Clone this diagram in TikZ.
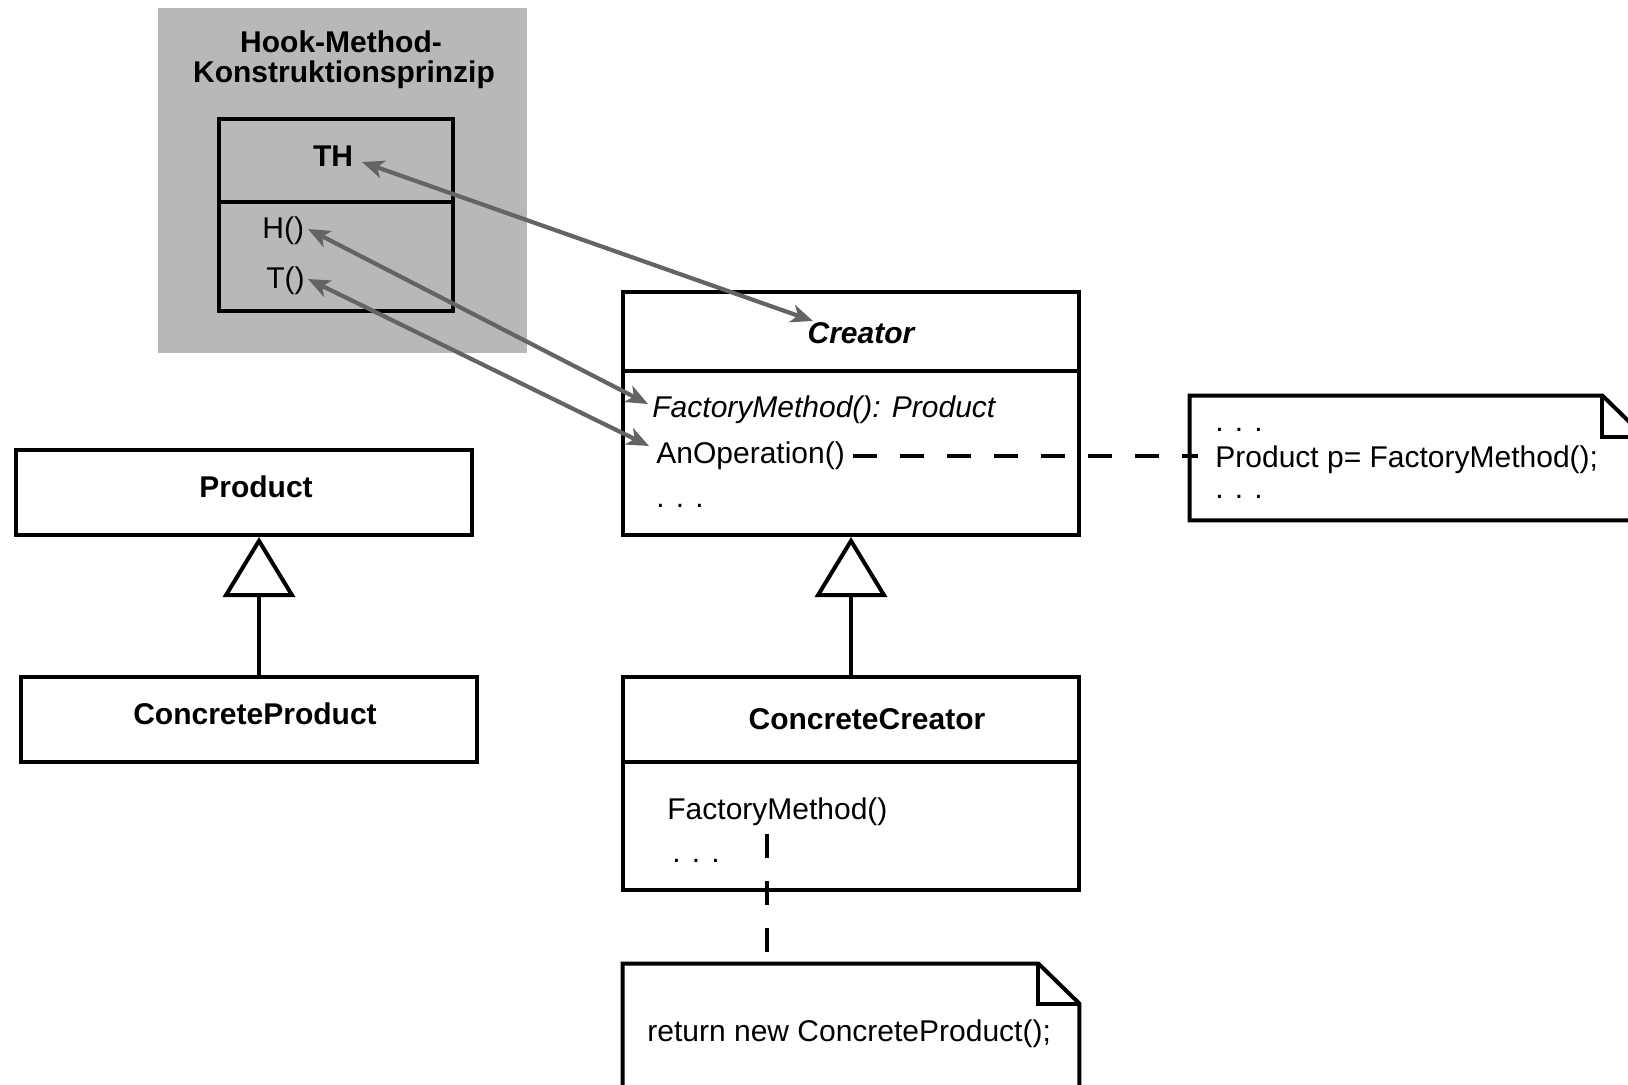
\documentclass[tikz,border=0pt]{standalone}
\usepackage{fontspec}
\setmainfont{Liberation Sans}
\usetikzlibrary{arrows.meta}
\definecolor{hookgray}{RGB}{184,184,184}
\definecolor{arrgray}{RGB}{100,100,100}
\begin{document}
\begin{tikzpicture}[x=0.5pt,y=-0.5pt,
  txt/.style={inner sep=0pt, font=\fontsize{15}{15}\selectfont},
  btxt/.style={inner sep=0pt, font=\fontsize{15}{15}\selectfont\bfseries},
  itxt/.style={inner sep=0pt, font=\fontsize{15}{15}\selectfont\itshape},
  bitxt/.style={inner sep=0pt, font=\fontsize{15}{15}\selectfont\bfseries\itshape},
  box/.style={draw, line width=2pt, inner sep=0pt},
  divider/.style={line width=2pt},
  hookarrow/.style={draw=arrgray, line width=2.1pt, {Stealth[length=11pt,width=9pt,inset=3pt]}-{Stealth[length=11pt,width=9pt,inset=3pt]}},
  inherit/.style={line width=2pt, -{Triangle[open,length=30pt,width=36pt]}},
  notelink/.style={line width=1.8pt, dash pattern=on 12pt off 11.5pt},
  notebox/.style={inner sep=0pt}
]
\useasboundingbox (0,0) rectangle (1628,1085);
\clip (0,0) rectangle (1628,1085);

% Hook-Method background
\node[fill=hookgray, inner sep=0pt, minimum width=184.5pt, minimum height=172.5pt] (hookbg) at (342.5,180.5) {};
\node[btxt, anchor=base] (hook1) at (341,53) {Hook-Method-};
\node[btxt, anchor=base] (hook2) at (344,83) {Konstruktionsprinzip};

% TH class
\node[box, minimum width=117pt, minimum height=96pt] (th) at (336,215) {};
\draw[divider] (th.west |- 0,202) -- (th.east |- 0,202);
\node[btxt, anchor=base] (thname) at (333,167) {TH};
\node[txt, anchor=base west] (hm) at (262,239) {H()};
\node[txt, anchor=base west] (tm) at (266,289) {T()};

% Creator class
\node[box, minimum width=228pt, minimum height=121.5pt] (creator) at (851,413.5) {};
\draw[divider] (creator.west |- 0,371) -- (creator.east |- 0,371);
\node[bitxt, anchor=base] (crname) at (861,344) {Creator};
\node[itxt, anchor=base west] (fm) at (652,418) {FactoryMethod(): Product};
\node[txt, anchor=base west] (anop) at (656,464) {AnOperation()};
\node[txt, anchor=base west] (crdots) at (656,508) {. . .};

% Product classes
\node[box, minimum width=228pt, minimum height=42.5pt] (product) at (244,492.5) {};
\node[btxt, anchor=base] (prname) at (256,497) {Product};
\node[box, minimum width=228pt, minimum height=42.5pt] (cprod) at (249,719.5) {};
\node[btxt, anchor=base] (cpname) at (255,724) {ConcreteProduct};

% ConcreteCreator
\node[box, minimum width=228pt, minimum height=106.5pt] (ccreator) at (851,783.5) {};
\draw[divider] (ccreator.west |- 0,762) -- (ccreator.east |- 0,762);
\node[btxt, anchor=base] (ccname) at (867,729) {ConcreteCreator};
\node[txt, anchor=base west] (ccfm) at (667,819) {FactoryMethod()};
\node[txt, anchor=base west] (ccdots) at (672,862) {. . .};

% Note 1
\node[notebox, minimum width=227pt, minimum height=62pt] (note1) at (1417,458) {};
\draw[line width=2pt, line join=miter]
  (note1.north west) -- ([xshift=-21pt]note1.north east) -- ([yshift=-20.5pt]note1.north east)
  -- (note1.south east) -- (note1.south west) -- cycle;
\draw[line width=2pt] ([xshift=-21pt]note1.north east) |- ([yshift=-20.5pt]note1.north east);
\node[txt, anchor=base west] (n1a) at (1215,432) {. . .};
\node[txt, anchor=base west] (n1b) at (1215,468) {Product p= FactoryMethod();};
\node[txt, anchor=base west] (n1c) at (1215,499) {. . .};

% Note 2
\node[notebox, minimum width=228pt, minimum height=73pt] (note2) at (851,1037) {};
\draw[line width=2pt, line join=miter]
  (note2.north west) -- ([xshift=-20.5pt]note2.north east) -- ([yshift=-20pt]note2.north east)
  -- (note2.south east) -- (note2.south west) -- cycle;
\draw[line width=2pt] ([xshift=-20.5pt]note2.north east) |- ([yshift=-20pt]note2.north east);
\node[txt, anchor=base west] (n2) at (647,1041) {return new ConcreteProduct();};

% Inheritance
\coordinate (pinh) at (259,600);
\draw[inherit] (pinh |- cprod.north) -- (pinh |- product.south);
\draw[inherit] (ccreator.north) -- (creator.south);

% Note links
\draw[notelink] ([xshift=4pt]anop.east) -- ([xshift=4pt]anop.east -| note1.west);
\coordinate (fmtail) at (767,834);
\draw[notelink] (fmtail) -- (fmtail |- note2.north);

% Hook arrows
\coordinate (thtip) at (362,162);
\coordinate (crtip) at (813,321);
\coordinate (htip) at (308,229);
\coordinate (fmtip) at (648,404);
\coordinate (ttip) at (308,279);
\coordinate (aotip) at (649,446);
\draw[hookarrow] (thtip) -- (crtip);
\draw[hookarrow] (htip) -- (fmtip);
\draw[hookarrow] (ttip) -- (aotip);
\end{tikzpicture}
\end{document}
